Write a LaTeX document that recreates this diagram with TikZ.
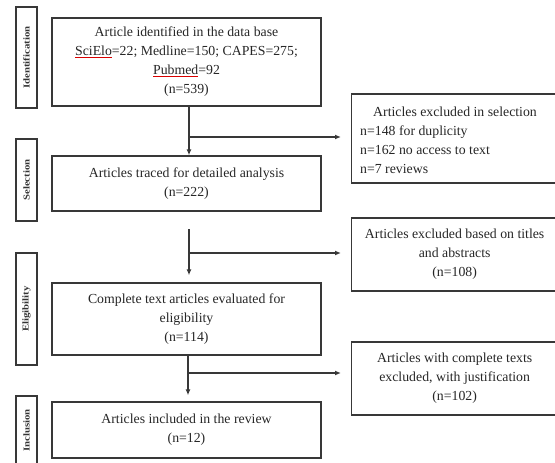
\documentclass[tikz,border=0pt]{standalone}
\usepackage{fontspec}
\setmainfont{Liberation Serif}
\usetikzlibrary{arrows.meta,calc}
\newcommand\redul[1]{{\color{red!85!black}\underline{\color{black!85}#1}}}
\begin{document}
\begin{tikzpicture}[x=1pt,y=-1pt,
  ln/.style={draw=black!78, line width=1.3pt},
  txt/.style={font=\fontsize{13.8}{19}\selectfont, text=black!85},
  mainbox/.style={ln, txt, rectangle, inner sep=0pt, minimum width=269pt, align=center},
  exbox/.style={ln, txt, rectangle, inner sep=0pt, minimum width=206pt, anchor=west, align=center},
  sidebox/.style={ln, rectangle, inner sep=0pt, rotate=90, minimum height=21pt, font=\fontsize{9}{10}\selectfont\bfseries, text=black!80},
  arr/.style={draw=black!78, line width=1.2pt, -{Latex[length=6pt,width=5pt]}}]
\useasboundingbox (0,0) rectangle (555,463);
\clip (0,0) rectangle (555,463);

% phase labels
\node[sidebox, minimum width=101pt] (s1) at (26.5,57.5) {\scalebox{1.2}[1]{Identification}};
\node[sidebox, minimum width=82pt] (s2) at (26.5,180) {\scalebox{1.2}[1]{Selection}};
\node[sidebox, minimum width=112pt] (s3) at (26.5,309) {\scalebox{1.2}[1]{Eligibility}};
\node[sidebox, minimum width=69pt] (s4) at (26.5,430.5) {\scalebox{1.2}[1]{Inclusion}};

% main boxes
\node[mainbox, minimum height=88pt] (b1) at (186.5,62) {Article identified in the data base\\ \redul{SciElo}=22; Medline=150; CAPES=275;\\ \redul{Pubmed}=92\hspace*{21pt}\\ (n=539)};
\node[mainbox, minimum height=55pt] (b2) at (186.5,183.5) {Articles traced for detailed analysis\\(n=222)};
\node[mainbox, minimum height=72pt] (b3) at (186.5,319) {Complete text articles evaluated for\\eligibility\\(n=114)};
\node[mainbox, minimum height=56pt] (b4) at (186.5,430) {Articles included in the review\\(n=12)};

% exclusion boxes
\node[exbox, minimum height=89pt] (e1) at (351,138.5) {};
\node[txt, align=left, anchor=west, inner sep=0pt] (e1t) at (360,140) {\hspace*{13pt}Articles excluded in selection\\n=148 for duplicity\\n=162 no access to text\\n=7 reviews};
\node[exbox, minimum height=73pt] (e2) at (351,254.5) {Articles excluded based on titles\\and abstracts\\(n=108)};
\node[exbox, minimum height=73pt] (e3) at (351,378.5) {Articles with complete texts\\excluded, with justification\\(n=102)};

% connectors
\coordinate (c1) at ($(b1.south)+(2.5,0)$);
\coordinate (j1) at (189,137);
\draw[arr] (c1) -- (c1 |- b2.north);
\draw[arr, shorten >=10pt] (j1) -- (j1 -| e1.west);

\coordinate (c2) at (189,229);
\coordinate (j2) at (189,253);
\draw[arr, shorten >=7pt] (c2) -- (c2 |- b3.north);
\draw[arr, shorten >=10pt] (j2) -- (j2 -| e2.west);

\coordinate (c3) at ($(b3.south)+(1.5,0)$);
\coordinate (j3) at (188,373);
\draw[arr, shorten >=6pt] (c3) -- (c3 |- b4.north);
\draw[arr, shorten >=10pt] (j3) -- (j3 -| e3.west);
\end{tikzpicture}
\end{document}
